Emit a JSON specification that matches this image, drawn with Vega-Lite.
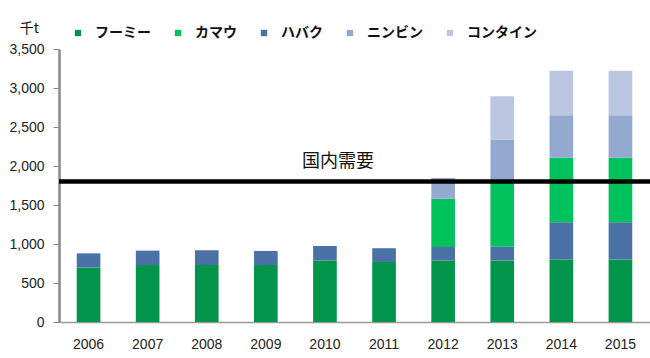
{
  "$schema": "https://vega.github.io/schema/vega-lite/v6.json",
  "width": 591,
  "height": 273,
  "autosize": "none",
  "padding": {"left": 59, "top": 49, "right": 0, "bottom": 36},
  "background": "white",
  "config": {
    "view": {"stroke": null},
    "font": "Liberation Sans",
    "axisY": {
      "values": [0, 500, 1000, 1500, 2000, 2500, 3000, 3500],
      "format": ",.0f",
      "labelOverlap": false,
      "grid": false,
      "titleAngle": 0,
      "titleFont": "Noto Sans CJK JP",
      "titleFontSize": 14,
      "titleFontWeight": "normal",
      "titleColor": "#111",
      "titleX": -30,
      "titleY": -14,
      "titleAlign": "center",
      "labelFontSize": 14,
      "labelColor": "#222",
      "labelPadding": 9,
      "tickSize": 6,
      "tickColor": "#888",
      "domainColor": "#888",
      "domainWidth": 2.5
    }
  },
  "datasets": {
    "prod": [
      {"year": "2006", "port": "フーミー", "k": 1, "value": 700},
      {"year": "2006", "port": "ハバク", "k": 2, "value": 180},
      {"year": "2007", "port": "フーミー", "k": 1, "value": 730},
      {"year": "2007", "port": "ハバク", "k": 2, "value": 185},
      {"year": "2008", "port": "フーミー", "k": 1, "value": 730},
      {"year": "2008", "port": "ハバク", "k": 2, "value": 190},
      {"year": "2009", "port": "フーミー", "k": 1, "value": 730},
      {"year": "2009", "port": "ハバク", "k": 2, "value": 180},
      {"year": "2010", "port": "フーミー", "k": 1, "value": 790},
      {"year": "2010", "port": "ハバク", "k": 2, "value": 185},
      {"year": "2011", "port": "フーミー", "k": 1, "value": 770},
      {"year": "2011", "port": "ハバク", "k": 2, "value": 175},
      {"year": "2012", "port": "フーミー", "k": 1, "value": 790},
      {"year": "2012", "port": "ハバク", "k": 2, "value": 170},
      {"year": "2012", "port": "カマウ", "k": 3, "value": 620},
      {"year": "2012", "port": "ニンビン", "k": 4, "value": 265},
      {"year": "2013", "port": "フーミー", "k": 1, "value": 790},
      {"year": "2013", "port": "ハバク", "k": 2, "value": 175},
      {"year": "2013", "port": "カマウ", "k": 3, "value": 845},
      {"year": "2013", "port": "ニンビン", "k": 4, "value": 530},
      {"year": "2013", "port": "コンタイン", "k": 5, "value": 555},
      {"year": "2014", "port": "フーミー", "k": 1, "value": 800},
      {"year": "2014", "port": "ハバク", "k": 2, "value": 480},
      {"year": "2014", "port": "カマウ", "k": 3, "value": 825},
      {"year": "2014", "port": "ニンビン", "k": 4, "value": 545},
      {"year": "2014", "port": "コンタイン", "k": 5, "value": 570},
      {"year": "2015", "port": "フーミー", "k": 1, "value": 800},
      {"year": "2015", "port": "ハバク", "k": 2, "value": 480},
      {"year": "2015", "port": "カマウ", "k": 3, "value": 825},
      {"year": "2015", "port": "ニンビン", "k": 4, "value": 545},
      {"year": "2015", "port": "コンタイン", "k": 5, "value": 570}
    ],
    "demand": [
      {"year": "2010", "value": 1800, "label": "国内需要"}
    ]
  },
  "layer": [
    {
      "data": {"name": "prod"},
      "mark": {"type": "bar"},
      "encoding": {
        "x": {
          "field": "year",
          "type": "nominal",
          "sort": null,
          "scale": {"paddingInner": 0.6, "paddingOuter": 0.3},
          "axis": {
            "title": null,
            "labelAngle": 0,
            "ticks": false,
            "labelPadding": 15,
            "labelFontSize": 14,
            "labelColor": "#222",
            "labelFont": "Liberation Sans",
            "domainColor": "#999",
            "domainWidth": 1.5
          }
        },
        "y": {
          "field": "value",
          "type": "quantitative",
          "stack": "zero",
          "scale": {"domain": [0, 3500], "nice": false},
          "title": "千t"
        },
        "color": {
          "field": "port",
          "type": "nominal",
          "scale": {
            "domain": ["フーミー", "カマウ", "ハバク", "ニンビン", "コンタイン"],
            "range": ["#00954a", "#00c25c", "#4a72a6", "#94a9cf", "#bbc7e0"]
          },
          "legend": {
            "title": null,
            "orient": "none",
            "direction": "horizontal",
            "legendX": 12,
            "legendY": -23,
            "symbolType": "square",
            "symbolSize": 40,
            "symbolStrokeWidth": 0,
            "labelFont": "Noto Sans CJK JP",
            "labelFontSize": 14,
            "labelFontWeight": "bold",
            "labelColor": "#111",
            "labelOffset": 10,
            "columnPadding": 20
          }
        },
        "order": {"field": "k", "type": "quantitative"}
      }
    },
    {
      "data": {"name": "demand"},
      "mark": {"type": "rule", "color": "black", "strokeWidth": 4.5},
      "encoding": {
        "y": {"field": "value", "type": "quantitative", "title": "千t"}
      }
    },
    {
      "data": {"name": "demand"},
      "mark": {"type": "text", "font": "Noto Sans CJK JP", "fontSize": 18, "color": "#111", "dx": 13, "dy": -20},
      "encoding": {
        "x": {"field": "year", "type": "nominal"},
        "y": {"field": "value", "type": "quantitative", "title": "千t"},
        "text": {"field": "label"}
      }
    }
  ]
}
